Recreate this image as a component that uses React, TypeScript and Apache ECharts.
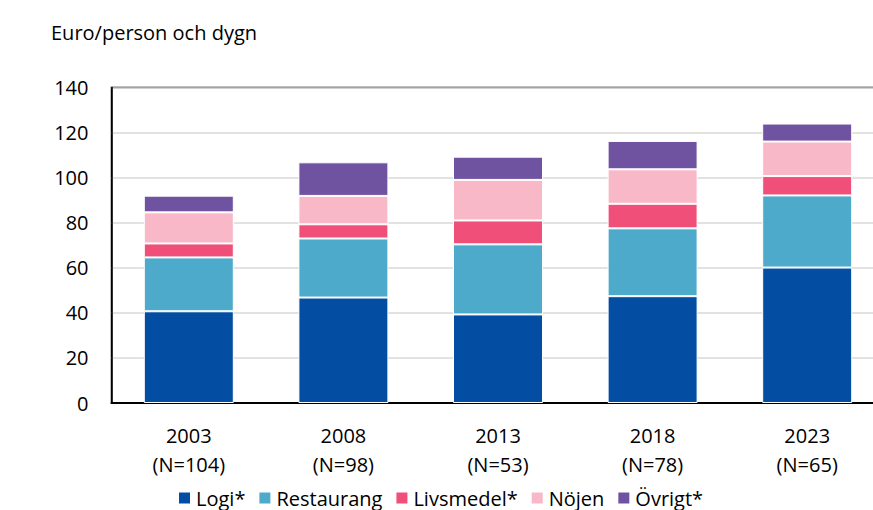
import React, { useEffect, useRef } from "react";
import * as echarts from "echarts";

const years = ["2003", "2008", "2013", "2018", "2023"];
const nValues = [104, 98, 53, 78, 65];
const logi = [40.7, 46.8, 39.3, 47.4, 60.1];
const restaurang = [23.9, 26.2, 31.1, 30.1, 32.0];
const livsmedel = [6.2, 6.3, 10.6, 10.9, 8.6];
const nojen = [13.8, 12.6, 18.0, 15.3, 15.3];
const ovrigt = [7.4, 14.9, 10.3, 12.6, 8.0];

const seriesDefs = [
  { name: "Logi*", data: logi, color: "#034EA2" },
  { name: "Restaurang", data: restaurang, color: "#4EAACB" },
  { name: "Livsmedel*", data: livsmedel, color: "#EF4F79" },
  { name: "Nöjen", data: nojen, color: "#F8B8C8" },
  { name: "Övrigt*", data: ovrigt, color: "#6F52A0" },
];

const FONT = "'Open Sans', 'Noto Sans', sans-serif";

export default function App() {
  const ref = useRef<HTMLDivElement>(null);
  useEffect(() => {
    if (!ref.current) return;
    const chart = echarts.init(ref.current, undefined, { renderer: "svg" });
    chart.setOption({
      animation: false,
      backgroundColor: "#ffffff",
      textStyle: { fontFamily: FONT, color: "#000" },
      title: {
        text: "Euro/person och dygn",
        left: 46,
        top: 17,
        textStyle: { fontFamily: FONT, fontSize: 20, fontWeight: "normal", color: "#000" },
      },
      legend: {
        left: 172,
        top: 483,
        itemWidth: 13,
        itemHeight: 13,
        itemGap: 12,
        icon: "rect",
        textStyle: { fontFamily: FONT, fontSize: 20, color: "#000" },
        data: seriesDefs.map((s) => s.name),
      },
      grid: {
        left: 111.5,
        top: 87.5,
        width: 773,
        height: 315.5,
        show: true,
        borderColor: "#000",
        borderWidth: 1.5,
        containLabel: false,
      },
      xAxis: {
        type: "category",
        data: years,
        axisLine: { show: true, lineStyle: { color: "#000", width: 2 } },
        axisTick: { show: false },
        axisLabel: {
          margin: 18,
          fontFamily: FONT,
          fontSize: 20,
          color: "#000",
          lineHeight: 29,
          formatter: (v: string, i: number) => `${v}\n(N=${nValues[i]})`,
        },
      },
      yAxis: {
        type: "value",
        min: 0,
        max: 140,
        interval: 20,
        axisLine: { show: true, lineStyle: { color: "#000", width: 1.5 } },
        axisTick: { show: false },
        splitLine: { lineStyle: { color: "#D9D9D9", width: 1.5 } },
        axisLabel: { margin: 23, fontFamily: FONT, fontSize: 20, color: "#000" },
      },
      series: seriesDefs.map((s) => ({
        name: s.name,
        type: "bar",
        stack: "total",
        barWidth: 90,
        data: s.data,
        itemStyle: { color: s.color, borderColor: "#ffffff", borderWidth: 1 },
      })),
    });
    return () => chart.dispose();
  }, []);
  return (
    <div
      style={{
        position: "fixed",
        left: 0,
        top: 0,
        width: 873,
        height: 510,
        overflow: "hidden",
        background: "#fff",
      }}
    >
      <div ref={ref} style={{ width: 910, height: 510 }} />
    </div>
  );
}
